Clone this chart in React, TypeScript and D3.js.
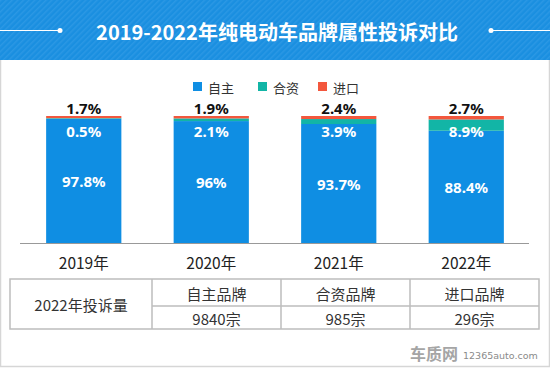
import React, { useRef, useEffect } from "react";
import * as d3 from "d3";

const years = ["2019年", "2020年", "2021年", "2022年"];
const series = ["自主", "合资", "进口"];
const domestic = [97.8, 96, 93.7, 88.4];
const joint = [0.5, 2.1, 3.9, 8.9];
const imported = [1.7, 1.9, 2.4, 2.7];
const colors = ["#0f8ee3", "#12b5a6", "#f3573d"];

const tableHead = "2022年投诉量";
const tableBrands = ["自主品牌", "合资品牌", "进口品牌"];
const tableCounts = ["9840宗", "985宗", "296宗"];

const W = 550;
const H = 368;
const cjk = "'Noto Sans CJK SC', 'Noto Sans', sans-serif";

const App = () => {
  const ref = useRef<SVGSVGElement>(null);

  useEffect(() => {
    document.body.style.margin = "0";
    const svg = d3.select(ref.current);
    svg.selectAll("*").remove();

    // header with diagonal stripes
    const defs = svg.append("defs");
    const pat = defs.append("pattern")
      .attr("id", "stripes")
      .attr("width", 4)
      .attr("height", 4)
      .attr("patternUnits", "userSpaceOnUse")
      .attr("patternTransform", "rotate(45)");
    pat.append("rect").attr("width", 4).attr("height", 4).attr("fill", "#1a8fe0");
    pat.append("rect").attr("width", 1.5).attr("height", 4).attr("fill", "#2b98e4");

    svg.append("rect").attr("width", W).attr("height", 60).attr("fill", "url(#stripes)");
    svg.append("line").attr("x1", 0).attr("x2", 60).attr("y1", 30.5).attr("y2", 30.5)
      .attr("stroke", "#fff").attr("stroke-width", 1);
    svg.append("circle").attr("cx", 60).attr("cy", 30.5).attr("r", 2.5).attr("fill", "#fff");
    svg.append("line").attr("x1", 491).attr("x2", W).attr("y1", 30.5).attr("y2", 30.5)
      .attr("stroke", "#fff").attr("stroke-width", 1);
    svg.append("circle").attr("cx", 491).attr("cy", 30.5).attr("r", 2.5).attr("fill", "#fff");
    svg.append("text")
      .attr("x", 277).attr("y", 31)
      .attr("text-anchor", "middle").attr("dominant-baseline", "central")
      .attr("fill", "#fff").attr("font-family", cjk).attr("font-weight", 700)
      .attr("font-size", 20)
      .text("2019-2022年纯电动车品牌属性投诉对比");

    // panel border
    svg.append("path")
      .attr("d", `M0.5,60 V366.5 H549.5 V60`)
      .attr("fill", "none").attr("stroke", "#d6d6d6").attr("stroke-width", 1.5);

    // legend
    const legendX = [193, 258, 318];
    series.forEach((s, i) => {
      svg.append("rect").attr("x", legendX[i]).attr("y", 82).attr("width", 9).attr("height", 9)
        .attr("fill", colors[i]);
      svg.append("text").attr("x", legendX[i] + 15).attr("y", 87)
        .attr("dominant-baseline", "central").attr("font-family", cjk)
        .attr("font-size", 13).attr("fill", "#333").text(s);
    });

    // bars
    const x = d3.scaleBand().domain(years).range([20, 530]).paddingInner(0.41).paddingOuter(0.205);
    const y = d3.scaleLinear().domain([0, 100]).range([243, 116]);
    const stackData = years.map((yr, i) => ({ year: yr, 自主: domestic[i], 合资: joint[i], 进口: imported[i] }));
    const stack = d3.stack<any>().keys(series)(stackData);

    stack.forEach((layer, li) => {
      svg.append("g").selectAll("rect").data(layer).join("rect")
        .attr("x", d => x(d.data.year)!)
        .attr("width", x.bandwidth())
        .attr("y", d => y(d[1]))
        .attr("height", d => y(d[0]) - y(d[1]))
        .attr("fill", colors[li]);
    });

    // axis line
    svg.append("line").attr("x1", 20).attr("x2", 529).attr("y1", 243.5).attr("y2", 243.5)
      .attr("stroke", "#999").attr("stroke-width", 1);

    const labelFont = "'Noto Sans', 'Noto Sans CJK SC', sans-serif";
    years.forEach((yr, i) => {
      const cx = x(yr)! + x.bandwidth() / 2;
      svg.append("text").attr("x", cx).attr("y", (y(0) + y(domestic[i])) / 2)
        .attr("text-anchor", "middle").attr("dominant-baseline", "central")
        .attr("font-family", labelFont).attr("font-weight", 700).attr("font-size", 15)
        .attr("fill", "#fff").text(`${domestic[i]}%`);
      svg.append("text").attr("x", cx).attr("y", y(100) + 15)
        .attr("text-anchor", "middle").attr("dominant-baseline", "central")
        .attr("font-family", labelFont).attr("font-weight", 700).attr("font-size", 15)
        .attr("fill", "#fff").text(`${joint[i]}%`);
      svg.append("text").attr("x", cx).attr("y", y(100) - 8)
        .attr("text-anchor", "middle").attr("dominant-baseline", "central")
        .attr("font-family", labelFont).attr("font-weight", 700).attr("font-size", 15)
        .attr("fill", "#111").text(`${imported[i]}%`);
      svg.append("text").attr("x", cx).attr("y", 262)
        .attr("text-anchor", "middle").attr("dominant-baseline", "central")
        .attr("font-family", cjk).attr("font-size", 15.5)
        .attr("fill", "#222").text(yr);
    });

    // table
    const cols = [10, 152, 281, 410, 539];
    const rows = [279, 306, 329];
    const tg = svg.append("g").attr("fill", "none").attr("stroke", "#bdbdbd").attr("stroke-width", 1.5);
    tg.append("rect").attr("x", cols[0]).attr("y", rows[0])
      .attr("width", cols[4] - cols[0]).attr("height", rows[2] - rows[0]);
    cols.slice(1, 4).forEach(c => {
      tg.append("line").attr("x1", c).attr("x2", c).attr("y1", rows[0]).attr("y2", rows[2]);
    });
    tg.append("line").attr("x1", cols[1]).attr("x2", cols[4]).attr("y1", rows[1]).attr("y2", rows[1]);

    svg.append("text").attr("x", (cols[0] + cols[1]) / 2).attr("y", (rows[0] + rows[2]) / 2)
      .attr("text-anchor", "middle").attr("dominant-baseline", "central")
      .attr("font-family", cjk).attr("font-size", 15).attr("fill", "#333").text(tableHead);
    tableBrands.forEach((b, i) => {
      const cx = (cols[i + 1] + cols[i + 2]) / 2;
      svg.append("text").attr("x", cx).attr("y", (rows[0] + rows[1]) / 2 + 0.5)
        .attr("text-anchor", "middle").attr("dominant-baseline", "central")
        .attr("font-family", cjk).attr("font-size", 15).attr("fill", "#333").text(b);
      svg.append("text").attr("x", cx).attr("y", (rows[1] + rows[2]) / 2 + 0.5)
        .attr("text-anchor", "middle").attr("dominant-baseline", "central")
        .attr("font-family", cjk).attr("font-size", 15).attr("fill", "#333").text(tableCounts[i]);
    });

    // watermark
    svg.append("text").attr("x", 410).attr("y", 353)
      .attr("dominant-baseline", "central").attr("font-family", cjk).attr("font-weight", 700)
      .attr("font-size", 16).attr("fill", "#a5a5a5").text("车质网");
    svg.append("text").attr("x", 463).attr("y", 355)
      .attr("dominant-baseline", "central").attr("font-family", "'DejaVu Sans', sans-serif")
      .attr("font-size", 9.5).attr("fill", "#8a8a8a").text("12365auto.com");
  }, []);

  return (
    <svg ref={ref} width={W} height={H}
      style={{ position: "absolute", left: 0, top: 0, background: "#fff" }} />
  );
};

export default App;
